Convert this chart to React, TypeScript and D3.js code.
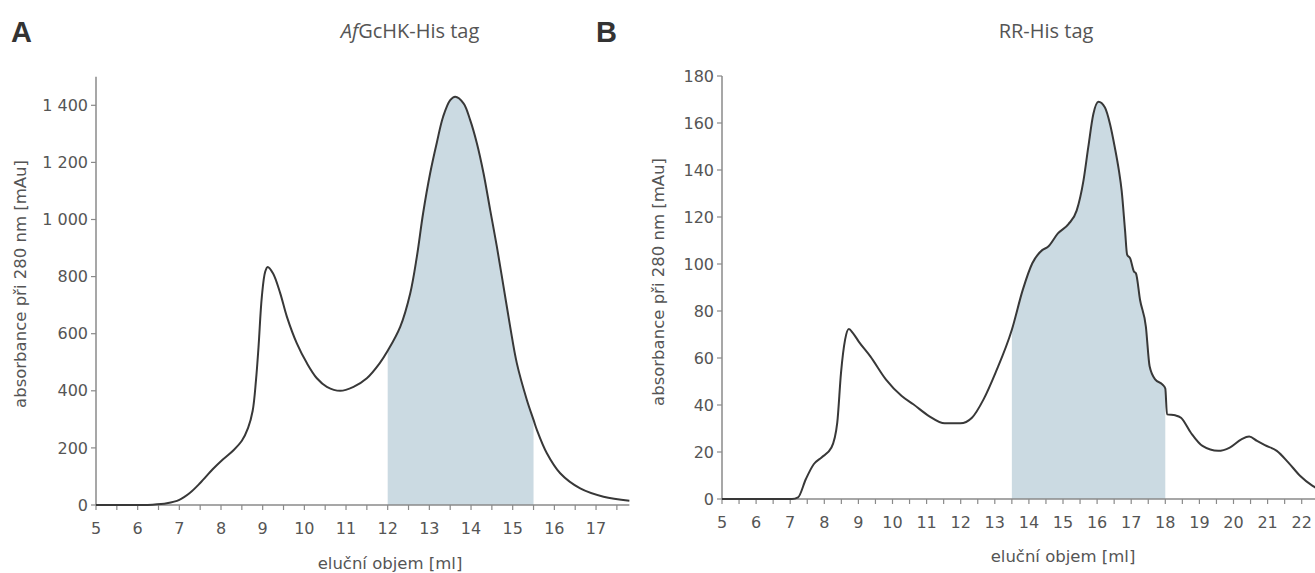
import React, { useRef, useEffect } from "react";
import * as d3 from "d3";

// panel A: AfGcHK-His tag
const elutionA = [
  5.0, 6.0, 6.35, 6.7, 7.0, 7.25, 7.5, 7.8, 8.05, 8.3, 8.5, 8.65, 8.76, 8.84, 8.9,
  8.98, 9.06, 9.12, 9.25, 9.42, 9.58, 9.82, 10.06, 10.3, 10.54, 10.86, 11.18, 11.5,
  11.81, 12.0, 12.3, 12.54, 12.7, 12.85, 13.02, 13.18, 13.33, 13.5, 13.62, 13.82,
  13.98, 14.14, 14.3, 14.46, 14.62, 14.78, 14.94, 15.1, 15.34, 15.5, 15.58, 15.82,
  16.14, 16.62, 17.18, 17.8,
];
const absorbanceA = [
  0, 0, 1, 6, 18, 42, 77, 125, 160, 192, 225, 270, 330, 438, 553,
  730, 817, 834, 811, 742, 660, 566, 497, 444, 414, 400, 414, 444,
  497, 540, 624, 741, 870, 1022, 1163, 1270, 1360, 1418, 1430, 1407,
  1348, 1267, 1162, 1033, 905, 765, 624, 496, 368, 298, 263, 181,
  111, 58, 29, 15,
];
const fractionA = [12, 15.5];
const yTicksA = [0, 200, 400, 600, 800, 1000, 1200, 1400];

// panel B: RR-His tag
const elutionB = [
  5.0, 7.05, 7.23, 7.46, 7.69, 7.92, 8.21, 8.38, 8.49, 8.61, 8.72, 8.84, 9.01, 9.35,
  9.81, 10.27, 10.61, 11.07, 11.53, 11.99, 12.33, 12.67, 13.02, 13.5, 13.82, 14.1,
  14.39, 14.56, 14.85, 15.16, 15.4, 15.6, 15.74, 15.89, 16.04, 16.23, 16.38, 16.52,
  16.64, 16.72, 16.82, 16.88, 16.97, 17.08, 17.14, 17.26, 17.43, 17.54, 17.71, 17.92,
  18.0, 18.05, 18.29, 18.46, 18.75, 19.09, 19.55, 19.89, 20.23, 20.46, 20.69, 20.92,
  21.27, 21.61, 21.95, 22.32, 22.6,
];
const absorbanceB = [
  0, 0, 0.7, 8.5, 14.8, 17.7, 21.9, 32.5, 53.7, 67.8, 72.3, 70.6, 67, 60.7,
  50.8, 43.8, 40.3, 35.3, 32.2, 32.2, 34.6, 42.4, 53.7, 72, 89, 100.3,
  105.9, 107.3, 113, 117, 122.7, 135.5, 149.6, 163.8, 169, 166.6, 159.5, 149.6,
  139.7, 131.2, 114.2, 104, 102.4, 96.8, 96, 84.7, 73.4, 56.5, 50.8, 48.7,
  47, 36, 35.6, 34.6, 28.2, 22.6, 20.5, 21.9, 25.4, 26.6, 24.7, 22.9,
  20.5, 15.5, 9.9, 5.6, 3.5,
];
const fractionB = [13.5, 18];
const yTicksB = [0, 20, 40, 60, 80, 100, 120, 140, 160, 180];

const FONT = "'DejaVu Sans', Verdana, sans-serif";
const AXIS = "#8a8a8a";
const TEXT = "#555";

const fmtSpace = (v) => d3.format(",")(v).replace(/,/g, " ");

function drawPanel(svg, o) {
  const pts = o.xs.map((x, i) => ({ x, y: o.ys[i] }));
  const x = d3.scaleLinear().domain(o.xDomain).range(o.xRange);
  const y = d3.scaleLinear().domain(o.yDomain).range(o.yRange);
  const g = svg.append("g");

  // shaded fraction
  const area = d3
    .area()
    .curve(o.curve)
    .x((d) => x(d.x))
    .y0(y(0))
    .y1((d) => y(d.y));
  g.append("path")
    .datum(pts.filter((d) => d.x >= o.fraction[0] && d.x <= o.fraction[1]))
    .attr("fill", "#cbdae2")
    .attr("d", area);

  // x axis
  const xt = d3.range(o.xDomain[0], Math.floor(o.xDomain[1] * 2) / 2 + 0.01, 0.5);
  const xa = g.append("g").attr("transform", `translate(0,${y(0)})`);
  xa.append("line")
    .attr("x1", x(o.xDomain[0]))
    .attr("x2", x(o.xDomain[1]))
    .attr("stroke", AXIS)
    .attr("stroke-width", 1.5);
  xa.selectAll("line.t")
    .data(xt)
    .join("line")
    .attr("class", "t")
    .attr("x1", (d) => x(d))
    .attr("x2", (d) => x(d))
    .attr("y1", 0)
    .attr("y2", 5)
    .attr("stroke", AXIS)
    .attr("stroke-width", 1.2);
  xa.selectAll("text")
    .data(xt.filter((d) => Number.isInteger(d)))
    .join("text")
    .attr("x", (d) => x(d))
    .attr("y", 29)
    .attr("text-anchor", "middle")
    .attr("font-family", FONT)
    .attr("font-size", 16)
    .attr("fill", TEXT)
    .text((d) => d);

  // y axis
  const ya = g.append("g").attr("transform", `translate(${x(o.xDomain[0])},0)`);
  ya.append("line")
    .attr("y1", y(0))
    .attr("y2", y(o.yDomain[1]))
    .attr("stroke", AXIS)
    .attr("stroke-width", 1.5);
  ya.selectAll("line.t")
    .data(o.yTicks)
    .join("line")
    .attr("class", "t")
    .attr("x1", -5)
    .attr("x2", 0)
    .attr("y1", (d) => y(d))
    .attr("y2", (d) => y(d))
    .attr("stroke", AXIS)
    .attr("stroke-width", 1.2);
  ya.selectAll("text")
    .data(o.yTicks)
    .join("text")
    .attr("x", -8)
    .attr("y", (d) => y(d))
    .attr("dy", "0.35em")
    .attr("text-anchor", "end")
    .attr("font-family", FONT)
    .attr("font-size", 16)
    .attr("fill", TEXT)
    .text((d) => fmtSpace(d));

  // curve
  const line = d3
    .line()
    .curve(o.curve)
    .x((d) => x(d.x))
    .y((d) => y(d.y));
  g.append("path")
    .datum(pts)
    .attr("fill", "none")
    .attr("stroke", "#383838")
    .attr("stroke-width", 2)
    .attr("d", line);

  // axis titles
  g.append("text")
    .attr("transform", `translate(${o.yTitleX},${o.yTitleY}) rotate(-90)`)
    .attr("text-anchor", "middle")
    .attr("font-family", FONT)
    .attr("font-size", 16.5)
    .attr("fill", TEXT)
    .text("absorbance při 280 nm [mAu]");
  g.append("text")
    .attr("x", o.xTitleX)
    .attr("y", o.xTitleY)
    .attr("text-anchor", "middle")
    .attr("font-family", FONT)
    .attr("font-size", 16.5)
    .attr("fill", TEXT)
    .text("eluční objem [ml]");

  // panel letter
  g.append("text")
    .attr("x", o.letterX)
    .attr("y", 42)
    .attr("font-family", "'Liberation Sans', Arial, sans-serif")
    .attr("font-weight", "bold")
    .attr("font-size", 29)
    .attr("fill", "#333")
    .text(o.letter);
}

export default function App() {
  const ref = useRef(null);

  useEffect(() => {
    const svg = d3.select(ref.current);
    svg.selectAll("*").remove();

    drawPanel(svg, {
      xs: elutionA,
      ys: absorbanceA,
      fraction: fractionA,
      yTicks: yTicksA,
      curve: d3.curveCatmullRom.alpha(0.5),
      xDomain: [5, 17.8],
      xRange: [96, 96 + 12.8 * 41.67],
      yDomain: [0, 1500],
      yRange: [505, 505 - 1500 * 0.2855],
      yTitleX: 26,
      yTitleY: 284,
      xTitleX: 390,
      xTitleY: 569,
      letter: "A",
      letterX: 11,
    });
    drawPanel(svg, {
      xs: elutionB,
      ys: absorbanceB,
      fraction: fractionB,
      yTicks: yTicksB,
      curve: d3.curveMonotoneX,
      xDomain: [5, 22.6],
      xRange: [722, 722 + 17.6 * 34.1],
      yDomain: [0, 180],
      yRange: [499, 499 - 180 * 2.35],
      yTitleX: 664,
      yTitleY: 282,
      xTitleX: 1063,
      xTitleY: 562,
      letter: "B",
      letterX: 596,
    });

    // titles
    const TFONT = "'Open Sans', sans-serif";
    const tA = svg
      .append("text")
      .attr("x", 410)
      .attr("y", 38)
      .attr("text-anchor", "middle")
      .attr("font-family", TFONT)
      .attr("font-size", 20)
      .attr("fill", "#555");
    tA.append("tspan").attr("font-style", "italic").text("Af");
    tA.append("tspan").text("GcHK-His tag");
    svg
      .append("text")
      .attr("x", 1046)
      .attr("y", 38)
      .attr("text-anchor", "middle")
      .attr("font-family", TFONT)
      .attr("font-size", 20)
      .attr("fill", "#555")
      .text("RR-His tag");
  }, []);

  return (
    <svg
      ref={ref}
      width={1315}
      height={573}
      style={{ position: "absolute", left: 0, top: 0, background: "#fff" }}
    ></svg>
  );
}
